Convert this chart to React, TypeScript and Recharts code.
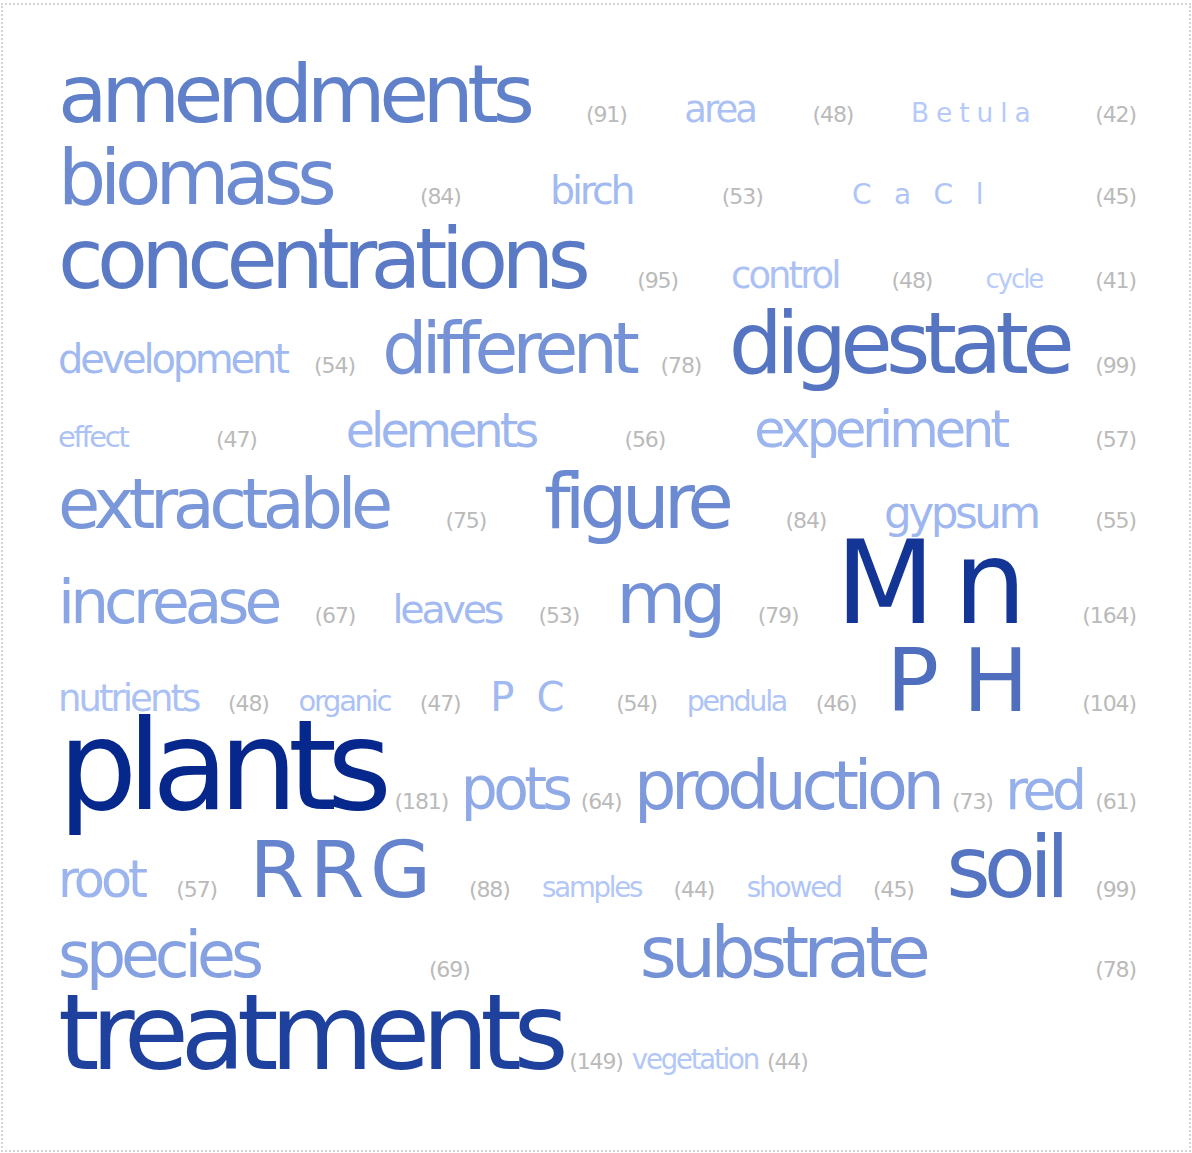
import { Scatter, ScatterChart, XAxis, YAxis } from "recharts";

const terms = [
  "amendments", "area", "Betula", "biomass", "birch", "CaCl", "concentrations", "control",
  "cycle", "development", "different", "digestate", "effect", "elements", "experiment",
  "extractable", "figure", "gypsum", "increase", "leaves", "mg", "Mn", "nutrients", "organic",
  "PC", "pendula", "PH", "plants", "pots", "production", "red", "root", "RRG", "samples",
  "showed", "soil", "species", "substrate", "treatments", "vegetation",
];
const counts = [
  91, 48, 42, 84, 53, 45, 95, 48, 41, 54, 78, 99, 47, 56, 57, 75, 84, 55, 67, 53, 79, 164, 48,
  47, 54, 46, 104, 181, 64, 73, 61, 57, 88, 44, 45, 99, 69, 78, 149, 44,
];

const WIDTH = 1192;
const HEIGHT = 1153;
const LEFT = 58;
const RIGHT = 1136;
const FONT = '"DejaVu Sans", Verdana, sans-serif';
const COUNT_SIZE = 22;
const COUNT_COLOR = "#bababa";

// abbreviations are drawn letter-spaced (em)
const spacedTerms: Record<string, number> = {
  Betula: 0.26,
  CaCl: 0.8,
  Mn: 0.16,
  PC: 0.55,
  PH: 0.27,
  RRG: 0.07,
};

// font size scale, interpolated on log(count)
const sizeStops: [number, number][] = [
  [41, 26],
  [47, 29],
  [48, 37],
  [54, 40],
  [57, 51],
  [91, 81],
  [149, 106],
  [181, 125],
];
const colorStops: [number, number[]][] = [
  [41, [184, 204, 250]],
  [61, [150, 176, 236]],
  [91, [96, 128, 202]],
  [181, [6, 40, 140]],
];

function logInterp<T>(c: number, stops: [number, T][], mix: (a: T, b: T, t: number) => T): T {
  if (c <= stops[0][0]) return stops[0][1];
  for (let i = 1; i < stops.length; i++) {
    const [c0, v0] = stops[i - 1];
    const [c1, v1] = stops[i];
    if (c <= c1) {
      const t = Math.log(c / c0) / Math.log(c1 / c0);
      return mix(v0, v1, t);
    }
  }
  return stops[stops.length - 1][1];
}

const fontSizeFor = (c: number) => logInterp(c, sizeStops, (a, b, t) => a + (b - a) * t);
const colorFor = (c: number) => {
  const rgb = logInterp(c, colorStops, (a, b, t) => a.map((v, i) => Math.round(v + (b[i] - v) * t)));
  return `rgb(${rgb[0]},${rgb[1]},${rgb[2]})`;
};

let ctx: CanvasRenderingContext2D | null = null;
function textWidth(text: string, size: number, ls: number) {
  if (!ctx) ctx = document.createElement("canvas").getContext("2d");
  ctx!.font = `${size}px ${FONT}`;
  return ctx!.measureText(text).width + ls * text.length;
}

interface Item {
  x: number;
  y: number;
  label: string;
  size: number;
  fill: string;
  ls: number;
  w: number;
}

function buildLayout(): Item[] {
  const pairs = terms.map((term, i) => {
    const size = fontSizeFor(counts[i]);
    const ls = (spacedTerms[term] ?? -0.08) * size;
    const countLs = -0.05 * COUNT_SIZE;
    const countLabel = `(${counts[i]})`;
    return {
      size,
      word: { label: term, size, fill: colorFor(counts[i]), ls, w: textWidth(term, size, ls) },
      count: {
        label: countLabel,
        size: COUNT_SIZE,
        fill: COUNT_COLOR,
        ls: countLs,
        w: textWidth(countLabel, COUNT_SIZE, countLs),
      },
    };
  });

  const maxW = RIGHT - LEFT;
  const minGap = 12;
  const rows: (typeof pairs)[] = [];
  let row: typeof pairs = [];
  let used = 0;
  for (const p of pairs) {
    const pw = p.word.w + minGap + p.count.w;
    const need = row.length ? used + minGap + pw : pw;
    if (row.length && need > maxW) {
      rows.push(row);
      row = [p];
      used = pw;
    } else {
      row.push(p);
      used = need;
    }
  }
  if (row.length) rows.push(row);

  const items: Item[] = [];
  let baseline = 42;
  let prevMax = 0;
  rows.forEach((r, ri) => {
    const rowMax = Math.max(...r.map((p) => p.size));
    baseline += 53 + 0.33 * rowMax + 0.05 * prevMax;
    prevMax = rowMax;
    const cells = r.flatMap((p) => [p.word, p.count]);
    const total = cells.reduce((s, c) => s + c.w, 0);
    const last = ri === rows.length - 1;
    const gap = last ? 9 : (maxW - total) / (cells.length - 1);
    let x = LEFT;
    cells.forEach((c) => {
      items.push({ ...c, x, y: baseline });
      x += c.w + gap;
    });
  });
  return items;
}

function WordShape(props: any) {
  const { cx, cy, payload } = props;
  return (
    <text
      x={cx}
      y={cy}
      fill={payload.fill}
      fontSize={payload.size}
      fontFamily={FONT}
      letterSpacing={payload.ls}
      textAnchor="start"
    >
      {payload.label}
    </text>
  );
}

export default function App() {
  const items = buildLayout();
  return (
    <div style={{ position: "absolute", left: 0, top: 0, width: WIDTH, height: HEIGHT, background: "#fff" }}>
      <ScatterChart width={WIDTH} height={HEIGHT} margin={{ top: 0, right: 0, bottom: 0, left: 0 }}>
        <XAxis type="number" dataKey="x" domain={[0, WIDTH]} hide />
        <YAxis type="number" dataKey="y" domain={[0, HEIGHT]} reversed hide />
        <Scatter data={items} shape={<WordShape />} isAnimationActive={false} />
      </ScatterChart>
      <div
        style={{
          position: "absolute",
          left: 1,
          top: 3,
          width: 1190,
          height: 1149,
          boxSizing: "border-box",
          border: "2px dotted #d4d4d4",
          pointerEvents: "none",
        }}
      />
    </div>
  );
}
